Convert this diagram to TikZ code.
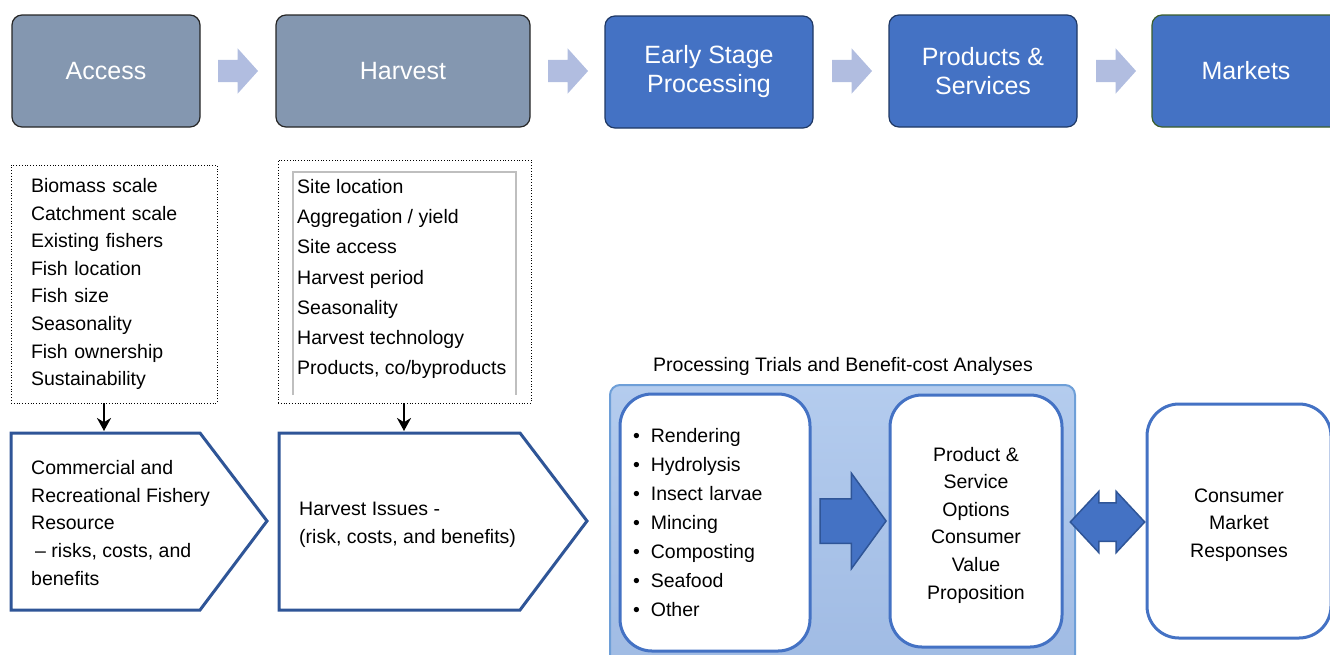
\documentclass[tikz,border=0pt]{standalone}
\usepackage{fontspec}
\setmainfont{Liberation Sans}
\usetikzlibrary{arrows.meta,positioning,shapes.arrows,calc}
\definecolor{accessgray}{HTML}{8497B0}
\definecolor{accessedge}{HTML}{262626}
\definecolor{stageblue}{HTML}{4472C4}
\definecolor{stageedge}{HTML}{1F3864}
\definecolor{marketedge}{HTML}{3B5E2B}
\definecolor{flowlav}{HTML}{B1BDE0}
\definecolor{pentedge}{HTML}{2F5597}
\definecolor{panelfill}{HTML}{B4CCEE}
\definecolor{paneldark}{HTML}{9FBAE3}
\definecolor{paneledge}{HTML}{6E9FD8}
\newcommand{\stagefont}{\fontsize{25}{29}\selectfont}
\newcommand{\listfont}{\fontsize{19.5}{27.6}\selectfont}

\begin{document}
\begin{tikzpicture}[x=1pt,y=-1pt,
  stage/.style={draw,rounded corners=10,line width=1.2,minimum height=112,
    font=\stagefont,text=white,align=center,inner sep=0},
  graystage/.style={stage,fill=accessgray,draw=accessedge},
  bluestage/.style={stage,fill=stageblue,draw=stageedge},
  flowarrow/.style={single arrow,fill=flowlav,draw=none,minimum height=40,
    inner sep=11,single arrow head extend=11.5,single arrow tip angle=96},
  dotbox/.style={draw,dotted,line width=0.8,font=\listfont,align=left},
  pent/.style={draw=pentedge,line width=3,fill=white},
  droparrow/.style={line width=2.6,-{Stealth[length=13,width=14]}},
  option/.style={draw=stageblue,line width=3,fill=white,rounded corners=32,
    font=\listfont,inner sep=0},
  bigarrow/.style={fill=stageblue,draw=pentedge,line width=1.5}]
\useasboundingbox (0,0) rectangle (1330,654);
\clip (0,0) rectangle (1330,654);

% Value chain stages
\node[graystage,minimum width=188] (access) at (106,71) {Access};
\node[graystage,minimum width=254] (harvest) at (403,71) {Harvest};
\node[bluestage,minimum width=208] (early) at (709,72) {Early Stage\\Processing};
\node[bluestage,minimum width=188] (products) at (983,71) {Products \&\\Services};
\node[bluestage,draw=marketedge,minimum width=188] (markets) at (1246,71) {Markets};
\foreach \x/\n in {233/1,563/2,847/3,1111/4}
  \node[flowarrow] (flow\n) at (\x,71) {};

% Access factors
\node[dotbox,minimum width=206,minimum height=238,text width=166,inner xsep=20]
  (accesslist) at (114,284)
  {Biomass scale\\Catchment scale\\Existing fishers\\Fish location\\Fish size\\
   Seasonality\\Fish ownership\\Sustainability};

% Harvest factors
\node[draw,dotted,line width=0.8,minimum width=253,minimum height=243]
  (harvestlist) at (404.5,281.5) {};
\draw[gray!50,line width=1.5] (293,395) -- (293,172) -- (516,172) -- (516,395);
\node[font=\fontsize{19.5}{30.3}\selectfont,align=left,anchor=west,inner xsep=0]
  (harvesttext) at (297,279)
  {Site location\\Aggregation / yield\\Site access\\Harvest period\\Seasonality\\
   Harvest technology\\Products, co/byproducts};

% Resource and harvest issues
\draw[pent] (11,433) -- (200,433) -- (267,521) -- (200,610) -- (11,610) -- cycle;
\node[font=\listfont,align=left,anchor=west,inner xsep=0] (resource) at (31,523)
  {Commercial and\\Recreational Fishery\\Resource\\\hspace{4pt}-- risks, costs, and\\benefits};
\draw[pent] (279,433) -- (520,433) -- (587,521) -- (520,610) -- (279,610) -- cycle;
\node[font=\listfont,align=left,anchor=west,inner xsep=0] (issues) at (299,525)
  {Harvest Issues -\\(risk, costs, and benefits)};
\coordinate (resourcein) at (104,431);
\coordinate (issuesin) at (404,431);
\draw[droparrow] (accesslist.south -| resourcein) -- (resourcein);
\draw[droparrow] (harvestlist.south -| issuesin) -- (issuesin);

% Trials panel
\node[font=\listfont] (trials) at (843,366) {Processing Trials and Benefit-cost Analyses};
\draw[draw=paneledge,line width=2,rounded corners=10,top color=panelfill,
  bottom color=paneldark] (610,385) rectangle (1075,680);
\node[option,minimum width=190,minimum height=257,text width=164,align=left,
  font=\fontsize{19.5}{29}\selectfont] (methods) at (715,522.5)
  {\textbullet\hspace{11pt}Rendering\\\textbullet\hspace{11pt}Hydrolysis\\
   \textbullet\hspace{11pt}Insect larvae\\\textbullet\hspace{11pt}Mincing\\
   \textbullet\hspace{11pt}Composting\\\textbullet\hspace{11pt}Seafood\\
   \textbullet\hspace{11pt}Other};
\node[option,minimum width=172,minimum height=252] (value) at (976,521) {};
\node[font=\listfont,align=center] (valuetext) at ($(value)+(0,4)$)
  {Product \&\\Service\\Options\\Consumer\\Value\\Proposition};
\node[option,minimum width=184,minimum height=234] (consumer) at (1239,521) {};
\node[font=\listfont,align=center] (consumertext) at ($(consumer)+(0,4)$)
  {Consumer\\Market\\Responses};

% Block arrows
\node[bigarrow,single arrow,minimum height=66,inner sep=21.5,
  single arrow head extend=25.5,single arrow tip angle=108] (toward) at (845,521) {};
\node[bigarrow,double arrow,minimum height=69,inner sep=18.5,
  double arrow head extend=11.5,double arrow tip angle=94] (exchange) at (1107.5,522) {};
\end{tikzpicture}
\end{document}
